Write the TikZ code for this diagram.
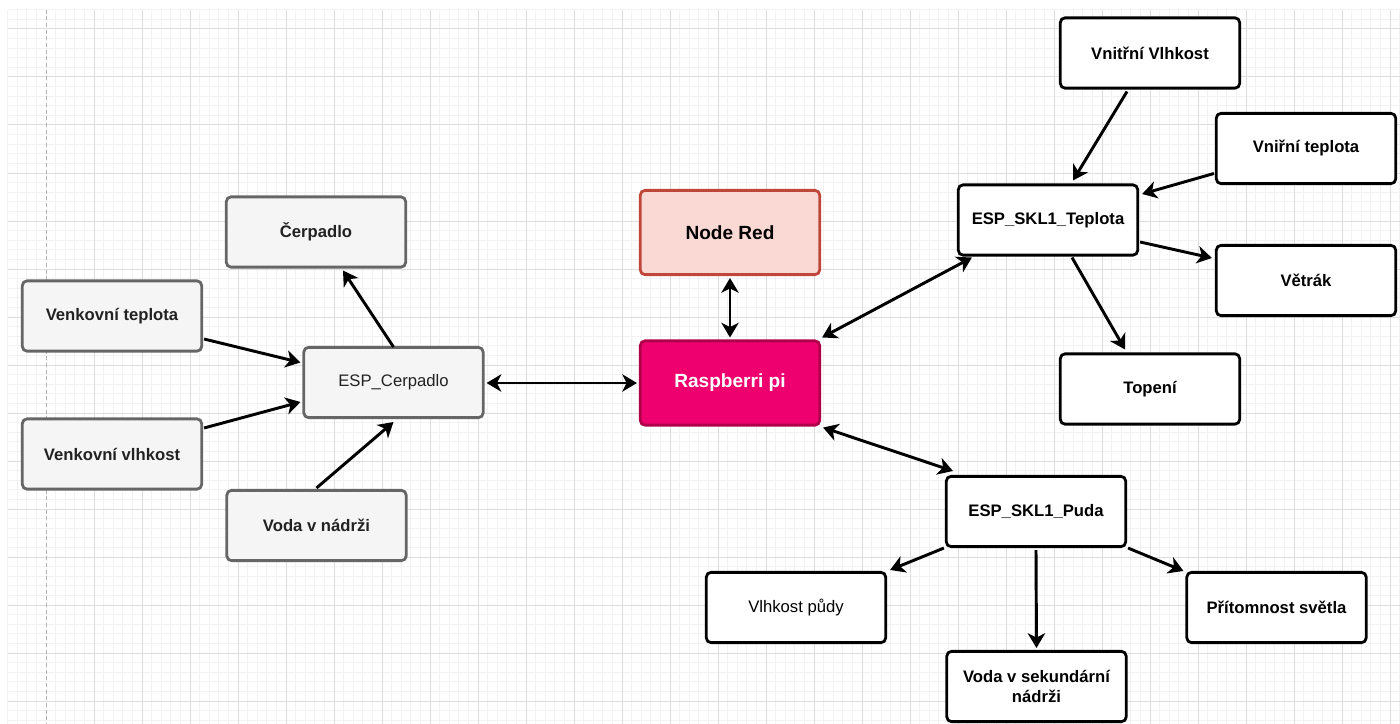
\documentclass[tikz,border=0pt]{standalone}
\usepackage{fontspec}
\setmainfont{Liberation Sans}
\usetikzlibrary{arrows.meta,calc}
\definecolor{gridminor}{HTML}{F2F2F2}
\definecolor{gridmajor}{HTML}{DDDDDD}
\definecolor{gfill}{HTML}{F5F5F5}
\definecolor{gstroke}{HTML}{666666}
\definecolor{gtext}{HTML}{222222}
\definecolor{nrfill}{HTML}{FAD9D5}
\definecolor{nrstroke}{HTML}{C0463A}
\definecolor{rpfill}{HTML}{EE006E}
\definecolor{rpstroke}{HTML}{B0004A}
\begin{document}
\begin{tikzpicture}[x=0.75pt,y=-0.75pt,
  box/.style={draw, line width=2.1pt, rounded corners=3.5pt, minimum width=134.5pt,
    minimum height=52.7pt, align=center, inner sep=2pt,
    font=\fontsize{12.5}{15}\selectfont\bfseries},
  plain/.style={font=\fontsize{12.5}{15}\selectfont},
  graybox/.style={box, fill=gfill, draw=gstroke, text=gtext},
  blackbox/.style={box, fill=white, draw=black, text=black},
  tallbox/.style={box, minimum height=63.2pt, font=\fontsize{14.3}{17}\selectfont\bfseries},
  tip/.tip={Stealth[length=11pt,width=13pt,inset=3.2pt]},
  arr/.style={line width=2.2pt, draw=black, -tip},
  darr/.style={line width=2.2pt, draw=black, tip-tip},
]
\fill[white] (0,0) rectangle (1400,724);
\useasboundingbox (0,0) rectangle (1400,724);
% grid
\foreach \i in {0,...,145} \draw[gridminor, line width=0.75pt] ({7.6+9.6*\i},9.8) -- ({7.6+9.6*\i},724);
\foreach \i in {0,...,74} \draw[gridminor, line width=0.75pt] (7.6,{9.8+9.6*\i}) -- (1400,{9.8+9.6*\i});
\foreach \k in {1,...,28} \draw[gridmajor, line width=0.75pt] ({46+48*\k},9.8) -- ({46+48*\k},724);
\foreach \k in {0,...,14} \draw[gridmajor, line width=0.75pt] (7.6,{29+48*\k}) -- (1400,{29+48*\k});
\draw[gray!60, line width=0.75pt, dash pattern=on 3pt off 2pt] (46,9.8) -- (46,724);

% left group
\node[graybox] (cerp) at (316,232) {Čerpadlo};
\node[graybox] (vt) at (112,316) {Venkovní teplota};
\node[graybox] (vv) at (112,454) {Venkovní vlhkost};
\node[graybox] (vn) at (316.5,525.5) {Voda v nádrži};
\node[graybox, plain] (espc) at (393.5,382.5) {ESP\_Cerpadlo};

% center
\node[tallbox, fill=nrfill, draw=nrstroke, text=black] (nr) at (730,232.5) {Node Red};
\node[tallbox, fill=rpfill, draw=rpstroke, text=white] (rasp) at (730,383) {Raspberri pi};

% top right group
\node[blackbox] (ivl) at (1150,53) {Vnitřní Vlhkost};
\node[blackbox] (ite) at (1306,148.5) {Vniřní teplota};
\node[blackbox] (tep) at (1048,220) {ESP\_SKL1\_Teplota};
\node[blackbox] (vet) at (1306,280.5) {Větrák};
\node[blackbox] (top) at (1150,389) {Topení};

% bottom right group
\node[blackbox] (puda) at (1036,511.5) {ESP\_SKL1\_Puda};
\node[blackbox, plain] (vpu) at (796,607.5) {Vlhkost půdy};
\node[blackbox] (pri) at (1276.5,607.5) {Přítomnost světla};
\node[blackbox] (vsek) at (1036.5,686.5) {Voda v sekundární\\nádrži};

% connectors left
\draw[arr] ($(espc.north)+(0,1)$) -- ($(cerp.south)+(27,2)$);
\draw[arr] ($(vt.east)+(1,23)$) -- ($(espc.west)+(-2,-20)$);
\draw[arr] ($(vv.east)+(1,-26)$) -- ($(espc.west)+(-2,19.5)$);
\draw[arr] ($(vn.north)+(0,-1)$) -- ($(espc.south)+(0,3)$);
\draw[darr] ($(espc.east)+(2,0.5)$) -- ($(rasp.west)+(-2,0)$);
% center
\draw[darr] ($(nr.south)+(0,2)$) -- ($(rasp.north)+(0,-2)$);
\draw[darr] ($(rasp.north east)+(1,-2)$) -- ($(tep.south west)+(15,1)$);
\draw[darr] ($(rasp.south east)+(2,1)$) -- ($(puda.north west)+(8,-4)$);
% top right
\draw[arr] ($(ivl.south)+(-23,2)$) -- ($(tep.north)+(25,-3)$);
\draw[arr] ($(ite.west)+(-1,25)$) -- ($(tep.east)+(3,-26)$);
\draw[arr] ($(tep.east)+(1,22)$) -- ($(vet.west)+(-3,-22.5)$);
\draw[arr] ($(tep.south)+(24,1)$) -- ($(top.north)+(-25,-3)$);
% bottom right
\draw[arr] ($(puda.south west)+(-1,0)$) -- ($(vpu.north east)+(3,-1)$);
\draw[arr] ($(puda.south)+(0,2)$) -- ($(vsek.north)+(0,-2)$);
\draw[arr] ($(puda.south east)+(1,0)$) -- ($(pri.north west)+(-2,0)$);
\end{tikzpicture}
\end{document}
